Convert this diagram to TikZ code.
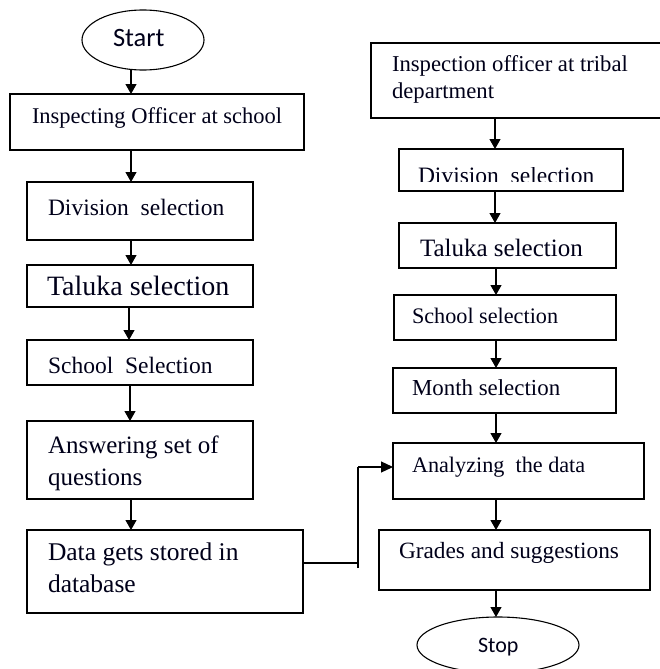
\documentclass[tikz,border=0pt]{standalone}
\usepackage{fontspec}
\setmainfont{Liberation Serif}
\newfontfamily\calib{Carlito}
\usetikzlibrary{arrows.meta,shapes.geometric}
\newcommand\fsz[2]{\fontsize{#1}{#2}\selectfont}
\tikzset{
  box/.style={draw=black, line width=1.2pt, inner sep=0pt, outer sep=0pt, rectangle},
  oval/.style={draw=black, line width=1.1pt, inner sep=0pt, outer sep=0pt, ellipse},
  txt/.style={inner sep=0pt, outer sep=0pt, anchor=base west, text=black!90!blue},
  arr/.style={draw=black, line width=1.2pt, -{Triangle[length=10pt,width=11pt]}},
  ln/.style={draw=black, line width=1.2pt},
}
\begin{document}
\begin{tikzpicture}[x=1pt,y=-1pt]
\useasboundingbox (0,0) rectangle (660,669);
% ---------- left column ----------
\node[oval, minimum width=122pt, minimum height=60pt] (start) at (143,40) {};
\node[txt, font=\calib\fsz{26.5}{30}] (starttxt) at (113,47) {Start};

\node[box, minimum width=294pt, minimum height=56pt] (L1) at (157,122) {};
\node[txt, font=\fsz{22.5}{27}] (L1t) at (32,123) {Inspecting Officer at school};

\node[box, minimum width=226pt, minimum height=58pt] (L2) at (140,211) {};
\node[txt, font=\fsz{23.5}{28}] (L2t) at (48,215) {Division\ \ selection};

\node[box, minimum width=226pt, minimum height=42pt] (L3) at (140,286) {};
\node[txt, font=\fsz{28}{33}] (L3t) at (47,295) {Taluka selection};

\node[box, minimum width=226pt, minimum height=45pt] (L4) at (140,362.5) {};
\node[txt, font=\fsz{23.5}{28}] (L4t) at (48,373) {School\ \ Selection};

\node[box, minimum width=226pt, minimum height=78pt] (L5) at (140,460) {};
\node[txt, font=\fsz{25}{32}] (L5t) at (48,453) {\parbox[t]{200pt}{Answering set of\\questions}};

\node[box, minimum width=276pt, minimum height=83pt] (L6) at (165,571.5) {};
\node[txt, font=\fsz{25.5}{32}] (L6t) at (48,560) {\parbox[t]{240pt}{Data gets stored in\\database}};

% ---------- right column ----------
\node[box, minimum width=291pt, minimum height=75pt] (R1) at (516.5,80.5) {};
\node[txt, font=\fsz{22.7}{27}] (R1t) at (392,71) {\parbox[t]{250pt}{Inspection officer at tribal\\department}};

\node[box, minimum width=224pt, minimum height=42pt] (R2) at (511,170) {};
\begin{scope}
  \clip (399,167.5) rectangle (623,181.5);
  \node[txt, font=\fsz{23.5}{28}] (R2t) at (418,183) {Division\ \ selection};
\end{scope}

\node[box, minimum width=217pt, minimum height=45pt] (R3) at (507.5,245.5) {};
\node[txt, font=\fsz{25}{30}] (R3t) at (420,256) {Taluka selection};

\node[box, minimum width=222pt, minimum height=45pt] (R4) at (505,317.5) {};
\node[txt, font=\fsz{22.2}{27}] (R4t) at (412,323) {School selection};

\node[box, minimum width=223pt, minimum height=45pt] (R5) at (504.5,390.5) {};
\node[txt, font=\fsz{22.9}{27}] (R5t) at (412,395) {Month selection};

\node[box, minimum width=251pt, minimum height=56pt] (R6) at (518.5,471) {};
\node[txt, font=\fsz{22.2}{27}] (R6t) at (412,472) {Analyzing\ \ the data};

\node[box, minimum width=271pt, minimum height=60pt] (R7) at (514.5,560) {};
\node[txt, font=\fsz{23.3}{28}] (R7t) at (399,558) {Grades and suggestions};

\node[oval, minimum width=162pt, minimum height=56pt] (stop) at (498,645) {};
\node[txt, font=\calib\fsz{22}{27}] (stoptxt) at (478,652) {Stop};

% ---------- connectors ----------
\draw[arr] (131,69.4) -- (131,0 |- L1.north);
\draw[arr] (131,0 |- L1.south) -- (131,0 |- L2.north);
\draw[arr] (131,0 |- L2.south) -- (131,0 |- L3.north);
\draw[arr] (129,0 |- L3.south) -- (129,0 |- L4.north);
\draw[arr] (130,0 |- L4.south) -- (130,0 |- L5.north);
\draw[arr] (131,0 |- L5.south) -- (131,0 |- L6.north);

\draw[arr] (495,0 |- R1.south) -- (495,0 |- R2.north);
\draw[arr] (495,0 |- R2.south) -- (495,0 |- R3.north);
\draw[arr] (496,0 |- R3.south) -- (496,0 |- R4.north);
\draw[arr] (496,0 |- R4.south) -- (496,0 |- R5.north);
\draw[arr] (496,0 |- R5.south) -- (496,0 |- R6.north);
\draw[arr] (496,0 |- R6.south) -- (496,0 |- R7.north);
\draw[arr] (496,0 |- R7.south) -- (496,0 |- stop.north);

\coordinate (k1) at (358,563);
\coordinate (k2) at (358,467);
\coordinate (k0) at (358,568);
\draw[ln] (L6.east |- k1) -- (k1);
\draw[ln] (k0) -- (k2);
\draw[arr, -{Triangle[length=12pt,width=11pt]}] (k2) -- (R6.west |- k2);
\end{tikzpicture}
\end{document}
